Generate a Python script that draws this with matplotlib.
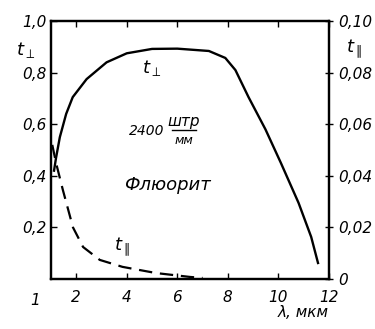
import matplotlib.pyplot as plt

# t_perp (left axis)
lam_perp = [1.12, 1.2, 1.35, 1.6, 1.86, 2.41, 3.2, 4.0, 5.0, 6.0, 7.25, 7.9, 8.3, 8.82, 9.49, 10.1, 10.8, 11.3, 11.57]
t_perp = [0.42, 0.47, 0.55, 0.64, 0.705, 0.775, 0.84, 0.875, 0.892, 0.893, 0.884, 0.857, 0.81, 0.705, 0.58, 0.45, 0.295, 0.163, 0.062]

# t_par (right axis)
lam_par = [1.05, 1.2, 1.47, 1.87, 2.27, 2.93, 3.83, 5.16, 6.5, 7.0]
t_par = [0.052, 0.045, 0.0345, 0.020, 0.0124, 0.0074, 0.0047, 0.0023, 0.0008, 0.0004]

left_ticks = [0.2, 0.4, 0.6, 0.8, 1.0]
left_labels = ['0,2', '0,4', '0,6', '0,8', '1,0']
right_ticks = [0, 0.02, 0.04, 0.06, 0.08, 0.10]
right_labels = ['0', '0,02', '0,04', '0,06', '0,08', '0,10']
x_ticks = [2, 4, 6, 8, 10, 12]

fs = 11
fig = plt.figure(figsize=(3.75, 3.29), dpi=100)
ax = fig.add_axes([0.136, 0.152, 0.741, 0.784])
ax2 = ax.twinx()

ax.plot(lam_perp, t_perp, 'k-', lw=1.7)
ax2.plot(lam_par, t_par, 'k', lw=1.6, dashes=(6, 3.5))

ax.set_xlim(1, 12)
ax.set_ylim(0, 1.0)
ax2.set_ylim(0, 0.10)

ax.set_xticks(x_ticks)
ax.set_xticklabels([str(v) for v in x_ticks], fontsize=fs, style='italic')
ax.set_yticks(left_ticks)
ax.set_yticklabels(left_labels, fontsize=fs, style='italic')
ax2.set_yticks(right_ticks)
ax2.set_yticklabels(right_labels, fontsize=fs, style='italic')

ax.tick_params(axis='both', direction='in', length=4, width=1, top=True)
ax.tick_params(axis='x', pad=8)
ax2.tick_params(axis='y', direction='inout', length=6, width=1)
for a in (ax, ax2):
    for s in a.spines.values():
        s.set_linewidth(1.6)

# Beschriftungen
ax.text(-0.09, 0.87, r'$t_{\perp}$', transform=ax.transAxes, fontsize=13, ha='center')
ax2.text(1.09, 0.88, r'$t_{\parallel}$', transform=ax.transAxes, fontsize=13, ha='center')
ax.text(4.6, 0.80, r'$t_{\perp}$', fontsize=13)
ax.text(3.5, 0.11, r'$t_{\parallel}$', fontsize=13)

# 2400 штр/мм
ax.text(4.1, 0.575, '2400', fontsize=10, style='italic', va='center')
ax.text(6.27, 0.61, 'штр', fontsize=11, style='italic', ha='center', va='center')
ax.plot([5.8, 6.74], [0.578, 0.578], 'k-', lw=1)
ax.text(6.27, 0.535, 'мм', fontsize=9, style='italic', ha='center', va='center')

ax.text(5.62, 0.364, 'Флюорит', fontsize=13, style='italic', ha='center', va='center')
ax.text(0.37, -0.085, '1', fontsize=fs, style='italic', ha='center', va='center', clip_on=False)
ax.text(11.0, -0.13, 'λ, мкм', fontsize=11, style='italic', ha='center', va='center', clip_on=False)

fig.savefig('out.png', dpi=100)
